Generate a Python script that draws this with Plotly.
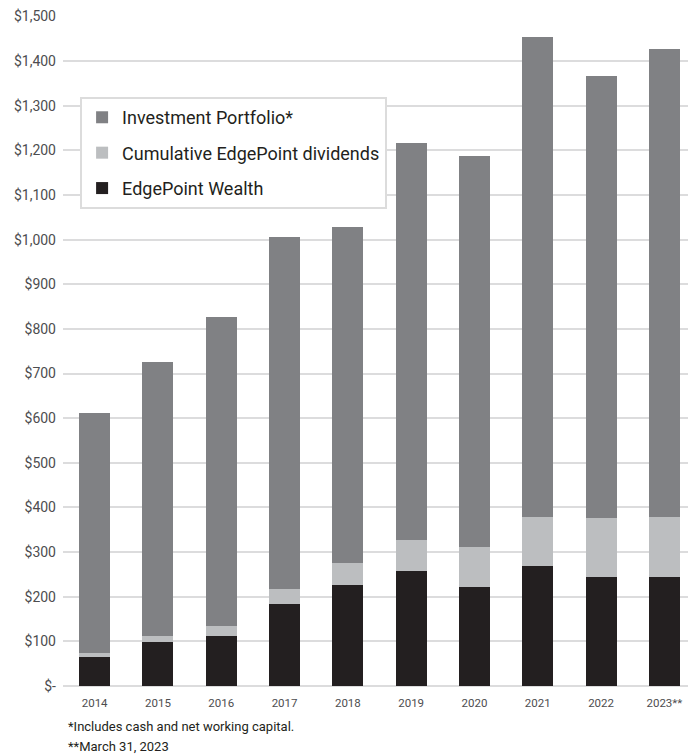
import plotly.graph_objects as go

years = ["2014", "2015", "2016", "2017", "2018", "2019", "2020", "2021", "2022", "2023**"]
edgepoint_wealth = [64, 98, 111, 183, 226, 257, 221, 268, 244, 244]
cumulative_dividends = [9, 13, 23, 34, 49, 70, 90, 110, 132, 134]
investment_portfolio = [538, 615, 693, 789, 753, 890, 877, 1077, 991, 1050]

tick_vals = list(range(0, 1501, 100))
tick_text = ["$-"] + [f"${v:,}" for v in tick_vals[1:]]

FONT = "Roboto"
TXT = "#4d4d4f"

fig = go.Figure()
fig.add_trace(go.Bar(x=years, y=edgepoint_wealth, name="EdgePoint Wealth",
                     marker=dict(color="#231f20", line=dict(width=0)),
                     legendgroup="a", legendrank=3))
fig.add_trace(go.Bar(x=years, y=cumulative_dividends, name="Cumulative EdgePoint dividends",
                     marker=dict(color="#bcbec0", line=dict(width=0)),
                     legendgroup="b", legendrank=2))
fig.add_trace(go.Bar(x=years, y=investment_portfolio, name="Investment Portfolio*",
                     marker=dict(color="#808184", line=dict(width=0)),
                     legendgroup="c", legendrank=1))

fig.update_layout(
    width=688, height=747,
    barmode="stack", bargap=0.51,
    paper_bgcolor="white", plot_bgcolor="white",
    margin=dict(l=55, r=0, t=8, b=69),
    font=dict(family=FONT, color=TXT),
    showlegend=True,
    legend=dict(
        x=0.027, y=0.879, xanchor="left", yanchor="top",
        traceorder="grouped", tracegroupgap=9,
        bordercolor="#dcdcdc", borderwidth=2, bgcolor="white",
        font=dict(size=18, color="#231f20", family=FONT),
        itemwidth=30,
    ),
    xaxis=dict(
        tickfont=dict(size=11.5, color=TXT), showgrid=False, showline=False,
        ticks="", ticklabelstandoff=8,
    ),
    yaxis=dict(
        range=[0, 1501], tickvals=tick_vals, ticktext=tick_text,
        tickfont=dict(size=14, color=TXT),
        showgrid=True, gridcolor="#dcdcdd", gridwidth=1.5,
        zeroline=True, zerolinecolor="#dcdcdd", zerolinewidth=1.5,
        showline=False, ticks="", ticklabelstandoff=6,
    ),
    annotations=[
        dict(text="*Includes cash and net working capital.", xref="paper", yref="paper",
             x=0.005, y=-0.061, xanchor="left", yanchor="middle", showarrow=False,
             font=dict(size=13, color="#231f20")),
        dict(text="**March 31, 2023", xref="paper", yref="paper",
             x=0.005, y=-0.09, xanchor="left", yanchor="middle", showarrow=False,
             font=dict(size=13, color="#231f20")),
    ],
)

fig.write_html("out.html")
